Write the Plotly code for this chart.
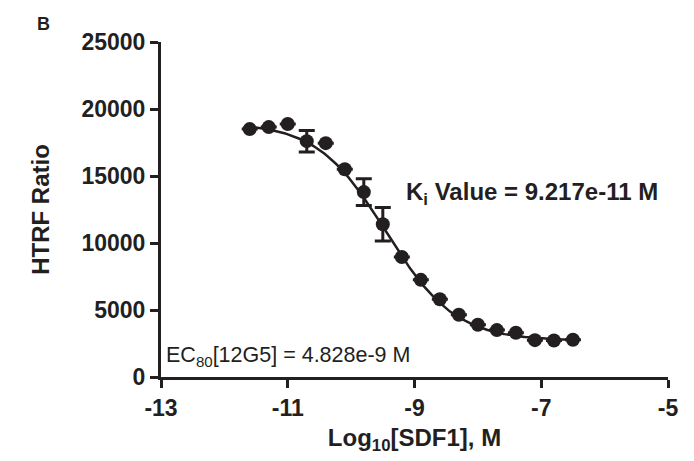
import numpy as np
import plotly.graph_objects as go

# Data
log_conc = [-11.6, -11.3, -11.0, -10.7, -10.4, -10.1, -9.8, -9.5, -9.2, -8.9,
            -8.6, -8.3, -8.0, -7.7, -7.4, -7.1, -6.8, -6.5]
htrf = [18500, 18650, 18880, 17600, 17450, 15500, 13800, 11400, 8950, 7250,
        5800, 4650, 3900, 3500, 3300, 2750, 2720, 2780]
htrf_err = [0, 0, 0, 800, 0, 0, 1000, 1250, 0, 0,
            0, 0, 0, 0, 0, 0, 0, 0]

# Four-parameter logistic fit parameters (estimated)
fit_top = 19000
fit_bottom = 2700
fit_logIC50 = -9.45
fit_hill = 0.8

x_ticks = [-13, -11, -9, -7, -5]
y_ticks = [0, 5000, 10000, 15000, 20000, 25000]

xc = np.linspace(min(log_conc), max(log_conc), 300)
yc = fit_bottom + (fit_top - fit_bottom) / (1 + 10 ** ((xc - fit_logIC50) * fit_hill))

ink = "#231f20"
font_family = "Liberation Sans, Arial, sans-serif"

fig = go.Figure()
fig.add_trace(go.Scatter(x=xc, y=yc, mode="lines",
                         line=dict(color=ink, width=2.5), hoverinfo="skip"))
fig.add_trace(go.Scatter(
    x=log_conc, y=htrf, mode="markers",
    marker=dict(color=ink, size=14, symbol="circle"),
    error_y=dict(type="data", array=htrf_err, visible=True,
                 color=ink, thickness=3, width=8),
))

axis_common = dict(
    showline=True, linecolor=ink, linewidth=3,
    ticks="outside", ticklen=8, tickwidth=3, tickcolor=ink,
    showgrid=False, zeroline=False,
    tickfont=dict(family=font_family, size=23, color=ink, weight="bold"),
)

fig.update_layout(
    width=694, height=461,
    margin=dict(l=161, r=26, t=42, b=84),
    paper_bgcolor="white", plot_bgcolor="white",
    showlegend=False,
    xaxis=dict(range=[-13, -5], tickvals=x_ticks, ticktext=[str(v) for v in x_ticks],
               title=dict(text="<b>Log<sub>10</sub>[SDF1], M</b>",
                          font=dict(family=font_family, size=24, color=ink),
                          standoff=10),
               **axis_common),
    yaxis=dict(range=[0, 25000], tickvals=y_ticks, ticktext=[str(v) for v in y_ticks],
               title=dict(text="<b>HTRF Ratio</b>",
                          font=dict(family=font_family, size=24, color=ink),
                          standoff=26),
               **axis_common),
)

fig.add_annotation(x=-0.2485, y=1.09, xref="paper", yref="paper",
                   xanchor="left", yanchor="top",
                   text="<b>B</b>", showarrow=False,
                   font=dict(family=font_family, size=18, color=ink))

fig.add_annotation(x=-9.17, y=13700, xref="x", yref="y", xanchor="left", yanchor="middle",
                   text="<b>K<sub>i</sub> Value = 9.217e-11 M</b>", showarrow=False,
                   font=dict(family=font_family, size=24, color=ink))
fig.add_annotation(x=-12.95, y=1550, xref="x", yref="y", xanchor="left", yanchor="middle",
                   text="EC<sub>80</sub>[12G5] = 4.828e-9 M", showarrow=False,
                   font=dict(family=font_family, size=21.5, color=ink))

fig.write_html("out.html", config={"displayModeBar": False},
               post_script="document.body.style.margin='0';")
